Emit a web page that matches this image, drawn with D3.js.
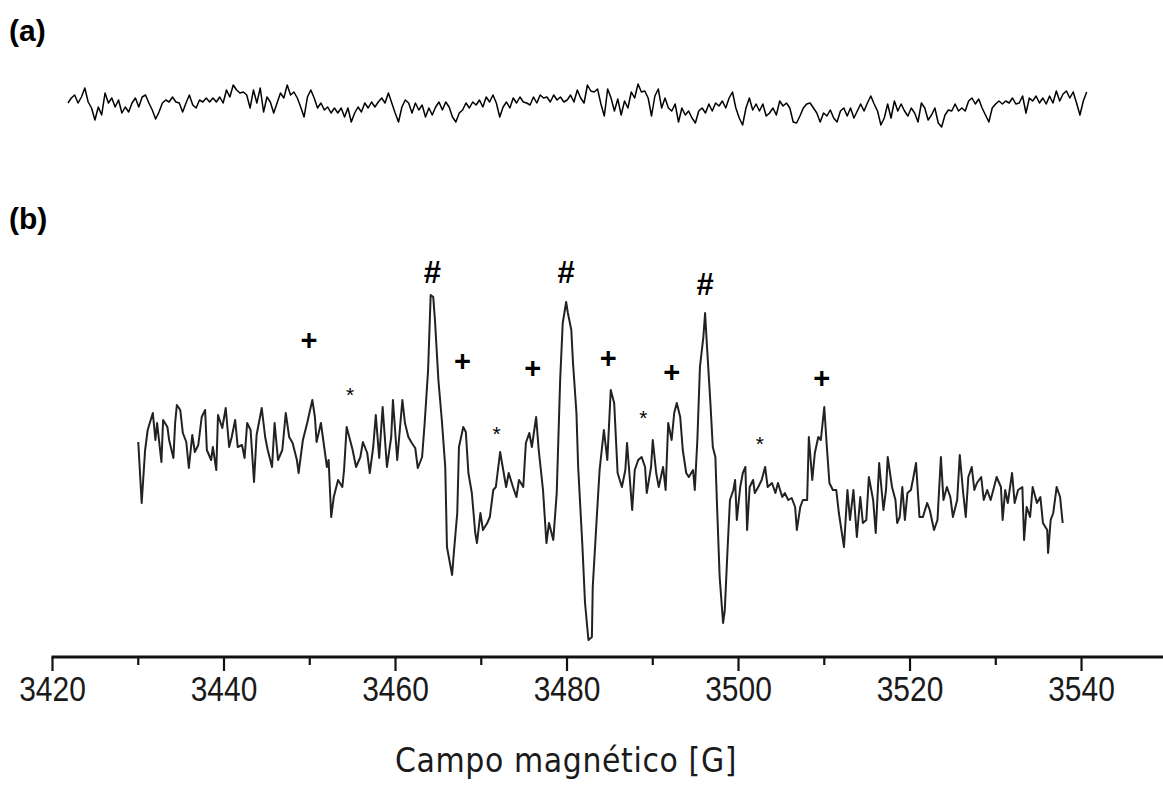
<!DOCTYPE html>
<html>
<head>
<meta charset="utf-8">
<script src="https://cdnjs.cloudflare.com/ajax/libs/d3/7.8.5/d3.min.js"></script>
<style>
  body { margin: 0; background: #fff; }
  svg { display: block; }
</style>
</head>
<body>
<script>

  //Spectrum (b): magnetic field [G] and signal (arbitrary units)
  var bField = [
    3430.0, 3430.4, 3430.8, 3431.1, 3431.7, 3432.0, 3432.2, 3432.7, 3432.9, 3433.4,
    3433.6, 3434.1, 3434.3, 3434.5, 3434.9, 3435.2, 3435.6, 3435.9, 3436.3, 3436.6,
    3437.0, 3437.4, 3437.8, 3438.0, 3438.5, 3438.7, 3439.1, 3439.3, 3439.8, 3440.2,
    3440.6, 3440.9, 3441.3, 3441.6, 3442.1, 3442.4, 3442.7, 3443.1, 3443.5, 3443.8,
    3444.4, 3444.8, 3445.1, 3445.6, 3445.9, 3446.3, 3446.8, 3447.2, 3447.6, 3448.0,
    3448.5, 3448.7, 3449.2, 3449.7, 3450.3, 3450.6, 3450.8, 3451.3, 3451.7, 3452.0,
    3452.2, 3452.5, 3452.8, 3453.3, 3453.8, 3454.0, 3454.3, 3454.7, 3455.0, 3455.4,
    3455.9, 3456.2, 3456.7, 3457.0, 3457.4, 3457.7, 3458.1, 3458.5, 3459.0, 3459.5,
    3459.7, 3460.2, 3460.8, 3461.1, 3461.5, 3461.9, 3462.3, 3462.6, 3463.1, 3463.4,
    3463.8, 3464.1, 3464.4, 3464.6, 3465.0, 3465.4, 3465.8, 3466.0, 3466.6, 3466.8,
    3467.2, 3467.4, 3467.9, 3468.2, 3468.5, 3468.9, 3469.3, 3469.5, 3469.9, 3470.2,
    3470.7, 3471.0, 3471.4, 3471.7, 3472.2, 3472.5, 3472.9, 3473.2, 3473.7, 3474.1,
    3474.4, 3474.9, 3475.2, 3475.6, 3475.9, 3476.4, 3476.7, 3477.2, 3477.6, 3477.9,
    3478.4, 3478.8, 3479.2, 3479.5, 3479.9, 3480.1, 3480.5, 3480.7, 3481.1, 3481.3,
    3481.8, 3482.1, 3482.5, 3482.9, 3483.0, 3483.5, 3483.8, 3484.3, 3484.7, 3485.1,
    3485.5, 3485.9, 3486.4, 3486.8, 3487.0, 3487.6, 3487.9, 3488.3, 3488.7, 3489.1,
    3489.3, 3489.8, 3490.0, 3490.4, 3490.7, 3491.2, 3491.5, 3491.8, 3492.2, 3492.5,
    3492.8, 3493.2, 3493.5, 3493.9, 3494.2, 3494.7, 3494.9, 3495.2, 3495.5, 3495.9,
    3496.1, 3496.3, 3496.7, 3497.0, 3497.3, 3497.5, 3497.8, 3498.2, 3498.4, 3498.7,
    3499.0, 3499.4, 3499.6, 3499.8, 3500.2, 3500.5, 3500.8, 3501.0, 3501.3, 3501.7,
    3501.9, 3502.3, 3502.7, 3503.1, 3503.4, 3503.9, 3504.3, 3504.6, 3505.1, 3505.4,
    3505.8, 3506.2, 3506.6, 3506.8, 3507.2, 3507.5, 3508.0, 3508.2, 3508.6, 3508.9,
    3509.3, 3509.6, 3510.0, 3510.3, 3510.6, 3511.0, 3511.4, 3511.7, 3512.3, 3512.7,
    3513.0, 3513.4, 3513.8, 3514.2, 3514.5, 3514.9, 3515.2, 3515.7, 3516.0, 3516.4,
    3516.9, 3517.2, 3517.4, 3517.9, 3518.3, 3518.5, 3518.8, 3519.1, 3519.4, 3519.7,
    3520.1, 3520.4, 3520.7, 3521.1, 3521.5, 3522.0, 3522.3, 3522.8, 3523.2, 3523.6,
    3523.9, 3524.3, 3524.7, 3525.0, 3525.5, 3525.8, 3526.2, 3526.5, 3526.8, 3527.2,
    3527.5, 3527.8, 3528.3, 3528.6, 3529.0, 3529.4, 3529.8, 3530.1, 3530.6, 3530.8,
    3531.1, 3531.4, 3531.9, 3532.2, 3532.6, 3533.1, 3533.3, 3533.6, 3534.0, 3534.3,
    3534.8, 3535.2, 3535.5, 3536.0, 3536.1, 3536.4, 3536.7, 3537.1, 3537.5, 3537.8
  ];
  var bSignal = [
    38, -23, 30, 50, 67, 40, 57, 18, 60, 53,
    40, 22, 57, 75, 70, 47, 38, 12, 45, 28,
    35, 63, 70, 30, 20, 33, 10, 65, 52, 72,
    33, 43, 60, 33, 35, 22, 57, 50, -2, 45,
    72, 43, 30, 13, 57, 20, 30, 67, 43, 37,
    20, 7, 40, 57, 80, 63, 38, 57, 32, 13,
    20, -37, -17, 0, -7, 10, 53, 40, 30, 13,
    23, 38, 27, 7, 33, 65, 22, 73, 13, 43,
    80, 20, 80, 57, 43, 37, 32, 12, 23, 57,
    110, 185, 183, 160, 100, 60, 13, -67, -95, -73,
    -33, 33, 53, 48, 7, -13, -53, -63, -33, -50,
    -43, -37, -10, -7, 28, 13, -7, 7, -7, -17,
    0, -7, 37, 47, 33, 63, 30, -10, -63, -43,
    -60, -13, 100, 157, 178, 167, 150, 117, 67, 13,
    -67, -123, -160, -157, -107, -33, 10, 50, 20, 90,
    77, 7, -7, 10, 37, -30, 10, 20, 23, 13,
    -13, 13, 40, 7, -7, 13, -10, 57, 40, 67,
    77, 63, 30, 7, 3, 10, -10, 40, 113, 143,
    167, 137, 80, 33, 23, -27, -97, -143, -130, -73,
    -20, -10, 0, -40, -7, 7, 13, -50, -7, 0,
    -13, -7, 0, 13, -7, -3, -13, -3, -17, -13,
    -20, -18, -27, -50, -27, -20, -20, 43, 0, 27,
    43, 40, 73, 33, -3, -10, -10, -33, -67, -10,
    -40, -10, -57, -17, -43, -40, 3, -20, -53, 17,
    -30, -10, 23, -7, -20, -43, -37, -7, -40, -13,
    -10, 3, 17, -37, -37, -23, -30, -50, -40, 23,
    -20, -7, -17, -37, -20, 25, -13, -37, 3, 13,
    -10, -3, 3, -20, -10, -20, -7, 3, -7, -40,
    -10, -23, 7, -23, -10, -7, -60, -27, -37, -7,
    -23, -17, -43, -50, -73, -40, -33, -7, -17, -43
  ];

  //Spectrum (a): evenly spaced signal between the first and last field
  var aFieldRange = [3421.8, 3540.6];
  var aSignal = [
    -3, 2, 5, -3, 3, 12, -2, -8, -20, -7, -15, 7, -3, 2, -7, 0, -13, -7, -12, -3,
    2, -7, 3, 5, -3, -10, -19, -12, -3, 0, -2, 3, -2, -3, -12, -3, 5, -5, -8, 0,
    -2, 2, -2, 2, -2, 3, -3, 10, 3, 15, 10, 7, 8, 5, -8, 10, -3, 12, -12, 3,
    -2, -13, -3, 7, 2, 15, 5, 8, 2, -7, -17, 3, 10, 2, -8, -3, -10, -7, -13, -8,
    -13, -8, -17, -8, -22, -13, -7, -12, -3, -8, -2, -7, -2, 2, -3, 7, -3, -13, -22, -7,
    0, -3, -13, -3, -10, -5, -17, -8, -15, -7, -2, -10, -2, -7, -17, -22, -13, -10, -3, -8,
    -2, -5, 0, -7, 3, -2, 5, -3, -17, -7, -2, -8, 2, -3, 3, -2, -3, -5, 3, -3,
    5, 2, 3, -2, 5, 0, 3, -2, 0, 5, -2, 10, 2, -3, 15,
    9, 8, 11, -4, -16, 11, 2, -11, 1, -15, -1, -8, 8, 2, 16, 8, 9, 2, -16, 4,
    11, -8, 2, -8, -11, -4, -22, -8, -15, -11, -18, -23, -11, -8, -13, -4, -11, -3, -6, -1,
    -8, 2, 8, -8, -18, -25, -8, 2, -10, -4, -11, -4, -16, -13, -8, -15, -1, -6, -3, -8,
    -22, -23, -16, -8, -4, -3, -8, -13, -22, -13, -16, -10, -18, -22, -11, -8, -16, -8, -18, -11,
    -4, -11, -3, 4, -4, -11, -25, -18, -4, -18, -1, -11, -4, -11, -16, -8, -13, -22, -3, -8,
    -20, -15, -8, -23, -27, -15, -10, -11, -4, -11, -8, -11, -1, 2, -4, 1, -8, -15, -22, -8,
    -4, -1, -4, -1, -3, 2, -4, -3, 4, -13, 2, -1, 4, -3, 2, -4, 4, -3, 9, -1,
    6, 9, 2, 8, -3, -15, -1, 8
  ];

  //Peak markers: symbol, field position and height above the trace
  var markSymbol = ["#", "#", "#", "+", "+", "+", "+", "+", "+", "*", "*", "*", "*"];
  var markField = [3464.3, 3479.9, 3496.1, 3449.9, 3467.8, 3476.0, 3484.8, 3492.2, 3509.7, 3454.7, 3471.8, 3488.9, 3502.5];
  var markLevel = [208, 208, 196, 140, 119, 112, 122, 108, 102, 92, 53, 69, 43];

  //Axis ticks
  var majorTicks = [3420, 3440, 3460, 3480, 3500, 3520, 3540];
  var minorTicks = [3430, 3450, 3470, 3490, 3510, 3530];
  var xTitle = "Campo magnético [G]";

  var width = 1163, height = 786;

  var svg = d3.select("body")
    .append("svg")
    .attr("width", width)
    .attr("height", height);

  // Shared field axis, the line runs off the right edge like the original
  var x = d3.scaleLinear()
    .domain([3420, 3549.5])
    .range([52.5, 1163]);

  var yB = d3.scaleLinear()
    .domain([-170, 190])
    .range([650, 290]);

  var yA = d3.scaleLinear()
    .domain([-30, 30])
    .range([130, 70]);

  var aIndex = d3.scaleLinear()
    .domain([0, aSignal.length - 1])
    .range(aFieldRange);

  //Panel letters
  svg.selectAll(".panel")
    .data([["(a)", 41], ["(b)", 229]])
    .enter().append("text")
    .attr("class", "panel")
    .attr("x", 9)
    .attr("y", function(d) { return d[1]; })
    .attr("font-family", "'Liberation Sans', Arial, sans-serif")
    .attr("font-weight", "bold")
    .attr("font-size", 30)
    .text(function(d) { return d[0]; });

  //Trace (a)
  var lineA = d3.line()
    .x(function(d, i) { return x(aIndex(i)); })
    .y(function(d) { return yA(d); });

  svg.append("path")
    .datum(aSignal)
    .attr("d", lineA)
    .attr("fill", "none")
    .attr("stroke", "#000")
    .attr("stroke-width", 1.5)
    .attr("stroke-linejoin", "round");

  //Trace (b)
  var lineB = d3.line()
    .x(function(d, i) { return x(bField[i]); })
    .y(function(d) { return yB(d); });

  svg.append("path")
    .datum(bSignal)
    .attr("d", lineB)
    .attr("fill", "none")
    .attr("stroke", "#222")
    .attr("stroke-width", 2)
    .attr("stroke-linejoin", "round");

  //Markers over the peaks
  svg.selectAll(".mark")
    .data(markSymbol)
    .enter().append("text")
    .attr("class", "mark")
    .attr("x", function(d, i) { return x(markField[i]); })
    .attr("y", function(d, i) { return yB(markLevel[i]); })
    .attr("text-anchor", "middle")
    .attr("dominant-baseline", "central")
    .attr("dy", function(d) { return d == "*" ? "0.3em" : 0; })
    .attr("font-family", "'Liberation Sans', Arial, sans-serif")
    .attr("font-weight", function(d) { return d == "*" ? "normal" : "bold"; })
    .attr("font-size", function(d) { return d == "#" ? 31 : d == "+" ? 29 : 21; })
    .text(function(d) { return d; });

  //Bottom axis
  var axisY = 657;
  var axis = svg.append("g")
    .attr("transform", "translate(0," + axisY + ")");

  axis.append("line")
    .attr("x1", x(3420) - 1)
    .attr("x2", width)
    .attr("stroke", "#111")
    .attr("stroke-width", 3);

  axis.selectAll(".major")
    .data(majorTicks)
    .enter().append("line")
    .attr("class", "major")
    .attr("x1", function(d) { return x(d); })
    .attr("x2", function(d) { return x(d); })
    .attr("y1", 0)
    .attr("y2", 14)
    .attr("stroke", "#111")
    .attr("stroke-width", 2.2);

  axis.selectAll(".minor")
    .data(minorTicks)
    .enter().append("line")
    .attr("class", "minor")
    .attr("x1", function(d) { return x(d); })
    .attr("x2", function(d) { return x(d); })
    .attr("y1", 0)
    .attr("y2", 8)
    .attr("stroke", "#111")
    .attr("stroke-width", 2.2);

  // the scanned figure has slightly tall lettering, stretch the labels a bit
  axis.selectAll(".ticklabel")
    .data(majorTicks)
    .enter().append("text")
    .attr("class", "ticklabel")
    .attr("transform", function(d) { return "translate(" + x(d) + ",44) scale(1,1.15)"; })
    .attr("text-anchor", "middle")
    .attr("font-family", "'Liberation Sans', Arial, sans-serif")
    .attr("font-size", 30)
    .attr("fill", "#1a1a1a")
    .text(function(d) { return d; });

  svg.append("text")
    .attr("transform", "translate(566,772) scale(1,1.12)")
    .attr("text-anchor", "middle")
    .attr("font-family", "'DejaVu Sans', Verdana, sans-serif")
    .attr("font-size", 30)
    .attr("letter-spacing", 0.6)
    .attr("fill", "#1a1a1a")
    .text(xTitle);

</script>
</body>
</html>
